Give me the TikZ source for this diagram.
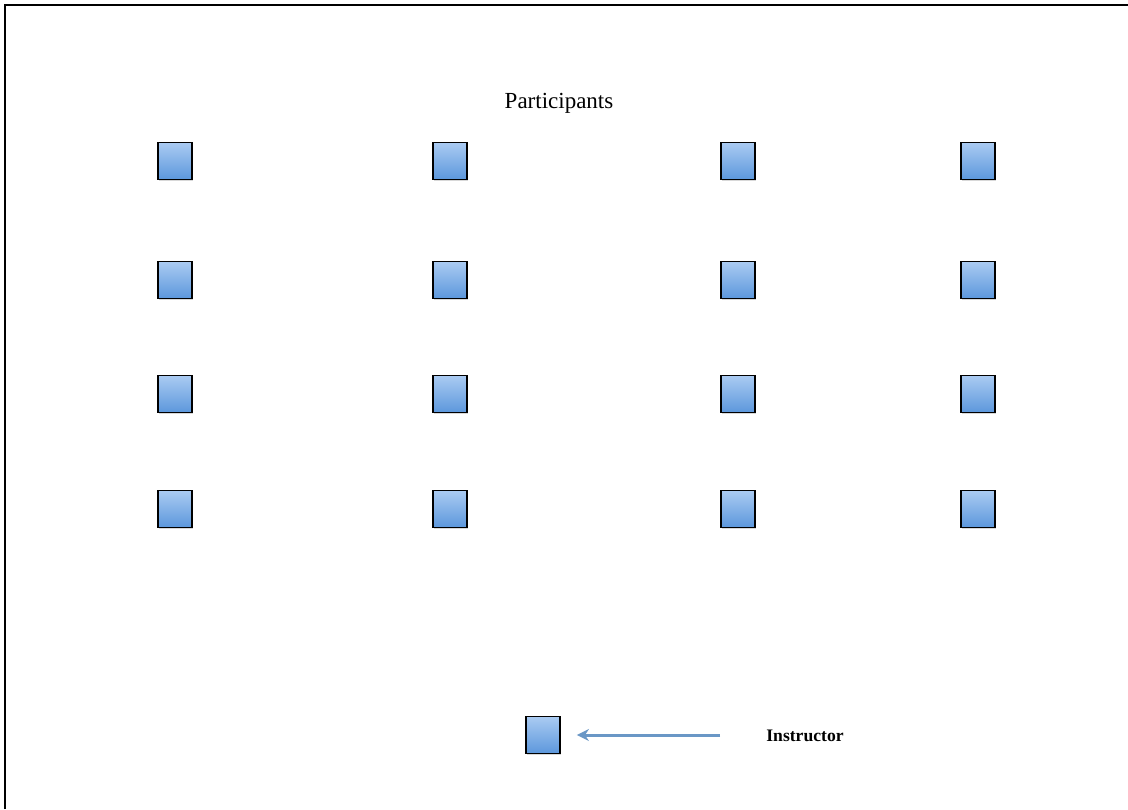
\documentclass[tikz,border=0pt]{standalone}
\usepackage{fontspec}
\setmainfont{Liberation Serif}
\usepackage{tikz}
\usetikzlibrary{arrows.meta, positioning, shadows}
\definecolor{seatbot}{HTML}{5C97DC}
\definecolor{seatup}{HTML}{AACBF2}
\definecolor{arrowblue}{HTML}{6A97C6}

\tikzset{
  seat/.style={draw=black, line width=0.9pt, minimum width=17pt, minimum height=18.5pt,
    inner sep=0pt, top color=seatup, bottom color=seatbot,
    drop shadow={opacity=0.3, shadow xshift=0.6pt, shadow yshift=-0.9pt}},
}

\begin{document}
\begin{tikzpicture}[x=0.5pt, y=-0.5pt, >=Stealth]
    \useasboundingbox (0,0) rectangle (1128,809);
    \fill[white] (0,0) rectangle (1128,809);

    % frame, cut off at right and bottom
    \draw[line width=1.2pt] (5,809) -- (5,5) -- (1128,5);

    \node (title) at (559,103) {\fontsize{11.5}{13}\selectfont Participants};

    % four rows of participants
    \foreach \c/\x in {1/175, 2/450, 3/738, 4/978} {
      \foreach \r/\y in {1/161, 2/280, 3/394, 4/509} {
        \node[seat] (p\r\c) at (\x,\y) {};
      }
    }

    % instructor at the front
    \node[seat] (teacher) at (543,735) {};
    \node (inst) at (805,736) {\fontsize{8.8}{10}\selectfont\bfseries Instructor};
    \coordinate (tail) at (720,735);
    \draw[-{Stealth[length=6pt,width=6pt]}, arrowblue, line width=1.5pt] (tail) -- ([xshift=8pt]teacher.east);
  \end{tikzpicture}
\end{document}
